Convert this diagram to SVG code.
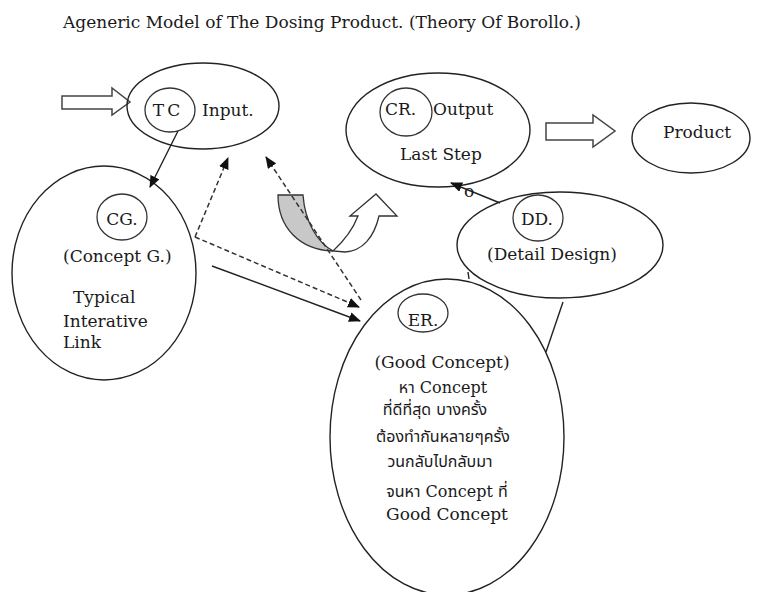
<svg xmlns="http://www.w3.org/2000/svg" width="757" height="592" viewBox="0 0 757 592">
<defs>
<marker id="ah" markerWidth="12" markerHeight="10" refX="11" refY="5" orient="auto" markerUnits="userSpaceOnUse">
<path d="M0,0 L12,5 L0,10 Z" fill="#111"/>
</marker>
<style>
.sh{fill:none;stroke:#222;stroke-width:1.4}
.ci{fill:none;stroke:#333;stroke-width:1.3}
.t{font-family:"DejaVu Serif","Liberation Serif",serif;font-size:17px;fill:#1a1a1a}
.th{font-family:"DejaVu Serif","Noto Sans Thai","Noto Sans","DejaVu Sans",serif;font-size:16px;fill:#1a1a1a}
.c{text-anchor:middle}
.ln{fill:none;stroke:#222;stroke-width:1.4}
.ds{fill:none;stroke:#333;stroke-width:1.5;stroke-dasharray:5 3}
.ho{fill:#fff;stroke:#444;stroke-width:1.5}
</style>
</defs>
<rect width="757" height="592" fill="#fff"/>
<text class="t" x="63" y="28" font-size="16">Ageneric Model of The Dosing Product.  (Theory Of Borollo.)</text>

<g id="input-arrow"><path class="ho" d="M62,96 H112 V88 L130,102 L112,115 V109 H62 Z"/></g>
<g id="input">
<ellipse class="sh" cx="203" cy="106" rx="76" ry="43"/>
<ellipse class="ci" cx="170" cy="110" rx="25" ry="22"/>
<text class="t c" x="168" y="116" letter-spacing="3">TC</text>
<text class="t" x="202" y="116">Input.</text>
</g>
<g id="output">
<ellipse class="sh" cx="438" cy="130" rx="92" ry="57"/>
<ellipse class="ci" cx="406" cy="112" rx="26" ry="24"/>
<text class="t" x="385" y="115">CR.</text>
<text class="t" x="433" y="115">Output</text>
<text class="t" x="400" y="160">Last Step</text>
</g>
<g id="product-arrow"><path class="ho" d="M546,123 H593 V115 L615,131 L593,147 V140 H546 Z"/></g>
<g id="product">
<ellipse class="sh" cx="691" cy="138" rx="59" ry="35"/>
<text class="t" x="663" y="138">Product</text>
</g>
<g id="cg">
<ellipse class="sh" cx="104" cy="273" rx="92" ry="107"/>
<ellipse class="ci" cx="122" cy="217" rx="25" ry="23"/>
<text class="t c" x="122" y="225">CG.</text>
<text class="t" x="63" y="262">(Concept G.)</text>
<text class="t" x="73" y="303">Typical</text>
<text class="t" x="63" y="327">Interative</text>
<text class="t" x="63" y="348">Link</text>
</g>
<g id="dd">
<ellipse class="sh" cx="560" cy="245" rx="103" ry="53"/>
<ellipse class="ci" cx="538" cy="218" rx="25" ry="23"/>
<text class="t c" x="537" y="225">DD.</text>
<text class="t" x="487" y="260">(Detail Design)</text>
</g>
<g id="er">
<ellipse class="sh" cx="447" cy="437" rx="117" ry="158"/>
<ellipse class="ci" cx="423" cy="313" rx="25" ry="19"/>
<text class="t c" x="423" y="326">ER.</text>
<text class="t c" x="442" y="368">(Good Concept)</text>
<text class="th c" x="443" y="393">หา Concept</text>
<text class="th c" x="435" y="415">ที่ดีที่สุด บางครั้ง</text>
<text class="th c" x="443" y="442">ต้องทำกันหลายๆครั้ง</text>
<text class="th c" x="440" y="467">วนกลับไปกลับมา</text>
<text class="th c" x="447" y="497">จนหา Concept ที่</text>
<text class="t c" x="447" y="520">Good Concept</text>
</g>
<g id="uturn">
<path d="M278,195 H303 C305,222 317,242 333,251 C300,250 278,228 278,195 Z" fill="#c8c8c8" stroke="#333" stroke-width="1.3"/>
<path d="M333,251 C345,240 353,229 358,216 L350,216 L376,194 L397,216 L379,216 C374,238 362,251 345,252 Z" fill="#fff" stroke="#333" stroke-width="1.3"/>
</g>
<g id="connectors">
<line class="ln" x1="178" y1="131" x2="150" y2="187" marker-end="url(#ah)"/>
<line class="ds" x1="195" y1="237" x2="228" y2="158" marker-end="url(#ah)"/>
<line class="ds" x1="195" y1="237" x2="359" y2="307" marker-end="url(#ah)"/>
<line class="ds" x1="361" y1="300" x2="266" y2="157" marker-end="url(#ah)"/>
<line class="ln" x1="212" y1="266" x2="360" y2="321" marker-end="url(#ah)"/>
<line class="ln" x1="500" y1="203" x2="451" y2="183" marker-end="url(#ah)"/>
<line class="ln" x1="563" y1="302" x2="546" y2="352"/>
<line class="ln" x1="468" y1="272" x2="469" y2="279"/>
<text class="t" x="464" y="197" font-size="7">o</text>
</g>
</svg>
